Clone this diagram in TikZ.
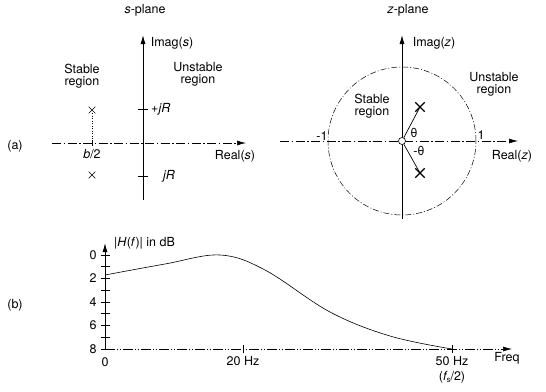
\documentclass[tikz,border=0pt]{standalone}
\usepackage{fontspec}
\setmainfont{TeX Gyre Heros}
\usetikzlibrary{arrows.meta,shapes.misc,positioning,calc}

\tikzset{
    axis/.style={-{Latex[length=9pt,width=5pt]}, line width=0.9pt},
    dashaxis/.style={-{Latex[length=9pt,width=5pt]}, line width=0.6pt, dash pattern=on 9pt off 2.5pt on 1.5pt off 2.5pt},
    dotaxis/.style={-{Latex[length=9pt,width=5pt]}, line width=0.6pt, dash pattern=on 10pt off 2pt on 1pt off 2pt on 1pt off 2pt},
    unitcirc/.style={line width=0.5pt, dash pattern=on 6pt off 2pt on 1pt off 2pt},
    spole/.style={cross out, draw, line width=0.6pt, minimum size=6pt, inner sep=0pt},
    zpole/.style={cross out, draw, line width=1.3pt, minimum size=8pt, inner sep=0pt},
    txt/.style={font=\fontsize{12.5}{12}\selectfont, inner sep=1pt, align=center}
}

\begin{document}
\begin{tikzpicture}[x=1pt, y=-1pt, every node/.style={txt}]
    \useasboundingbox (0,0) rectangle (546,391);

    % s-plane
    \coordinate (sImB) at (143,200);
    \coordinate (sImT) at (143,35);
    \coordinate (sReL) at (52,143);
    \coordinate (sReR) at (246,143);
    \coordinate (sHalf) at (92,143);
    \coordinate (sjRp) at (143,109);
    \coordinate (sjRm) at (143,176);
    \draw [dashaxis] (sReL) -- (sReR);
    \draw [axis] (sImB) -- (sImT);
    \node (sp1) [spole] at (92,110) {};
    \node (sp2) [spole] at (92,175) {};
    \draw [dotted, line width=0.5pt] (sp1) -- (sHalf);
    \draw [line width=0.6pt] (sHalf) ++(0,-3) -- ++(0,6);
    \draw [line width=0.6pt] (sjRp) ++(-5,0) -- ++(10,0);
    \draw [line width=0.6pt] (sjRm) ++(-5,0) -- ++(10,0);

    \node (stitle) at (145,10) {\textit{s}-plane};
    \node (simag) at (172,43) {Imag(\textit{s})};
    \node (sstable) at (82,76) {Stable\\region};
    \node (sunstable) at (198,74) {Unstable\\region};
    \node (sjRplab) [anchor=west] at (150,109) {+\textit{jR}};
    \node (sjRmlab) [anchor=west] at (162,176) {\textit{jR}};
    \node (shalflab) at (92,154) {\textit{b}/2};
    \node (sreal) at (235,156) {Real(\textit{s})};
    \node (alab) at (15,146) {(a)};

    % z-plane
    \coordinate (zC) at (402,141);
    \coordinate (zImB) at (402,219);
    \coordinate (zImT) at (402,35);
    \coordinate (zReL) at (280,141);
    \coordinate (zReR) at (518,141);
    \draw [unitcirc] (zC) circle (74pt);
    \draw [dashaxis] (zReL) -- (zReR);
    \draw [axis, line width=0.8pt] (zImB) -- (zImT);
    \node (zO) [circle, draw, fill=white, line width=0.6pt, minimum size=7pt, inner sep=0pt] at (zC) {};
    \node (zp1) [zpole] at (420,107) {};
    \node (zp2) [zpole] at (420,173) {};
    \draw [line width=0.7pt] (zO) -- (zp1.center);
    \draw [line width=0.7pt] (zO) -- (zp2.center);

    \node (ztitle) at (408,10) {\textit{z}-plane};
    \node (zimag) at (434,43) {Imag(\textit{z})};
    \node (zstable) at (372,106) {Stable\\region};
    \node (zunstable) at (494,84) {Unstable\\region};
    \node (zminus) at (322,136) {-1};
    \node (zone) at (481,135) {1};
    \node (ztheta) at (414,133) {θ};
    \node (zmtheta) at (419,151) {-θ};
    \node (zreal) at (512,156) {Real(\textit{z})};

    % magnitude response
    \coordinate (pO) at (105,349);
    \coordinate (pYT) at (105,243);
    \coordinate (pXR) at (512,349);
    \coordinate (p20) at (243,349);
    \coordinate (p50) at (452,349);
    \draw [dotaxis] (pO) -- (pXR);
    \draw [axis] (pO) -- (pYT);
    \foreach \d in {0,...,8}
        \draw [line width=0.7pt] (101,{255+11.75*\d}) -- (110,{255+11.75*\d});
    \foreach \d in {0,2,4,6,8}
        \node (db\d) at (93,{255+11.75*\d}) {\d};
    \draw [line width=0.6pt] (p20) ++(0,-4) -- ++(0,8);
    \draw [line width=0.6pt] (p50) ++(0,-4) -- ++(0,8);
    \draw [line width=0.6pt] plot [smooth, tension=0.6] coordinates {(105,275) (165,264) (220,255) (265,270) (330,312) (390,336) (452,349)};

    \node (plab) [anchor=west] at (113,243) {|\textit{H}(\textit{f})| in dB};
    \node (f0) at (105,362) {0};
    \node (f20) at (243,361) {20 Hz};
    \node (f50) at (452,361) {50 Hz};
    \node (fhalf) at (452,377) {(\textit{f}\kern-1pt\raisebox{-2pt}{\fontsize{8}{8}\selectfont s}/2)};
    \node (freq) at (507,358) {Freq};
    \node (blab) at (15,305) {(b)};
\end{tikzpicture}
\end{document}
